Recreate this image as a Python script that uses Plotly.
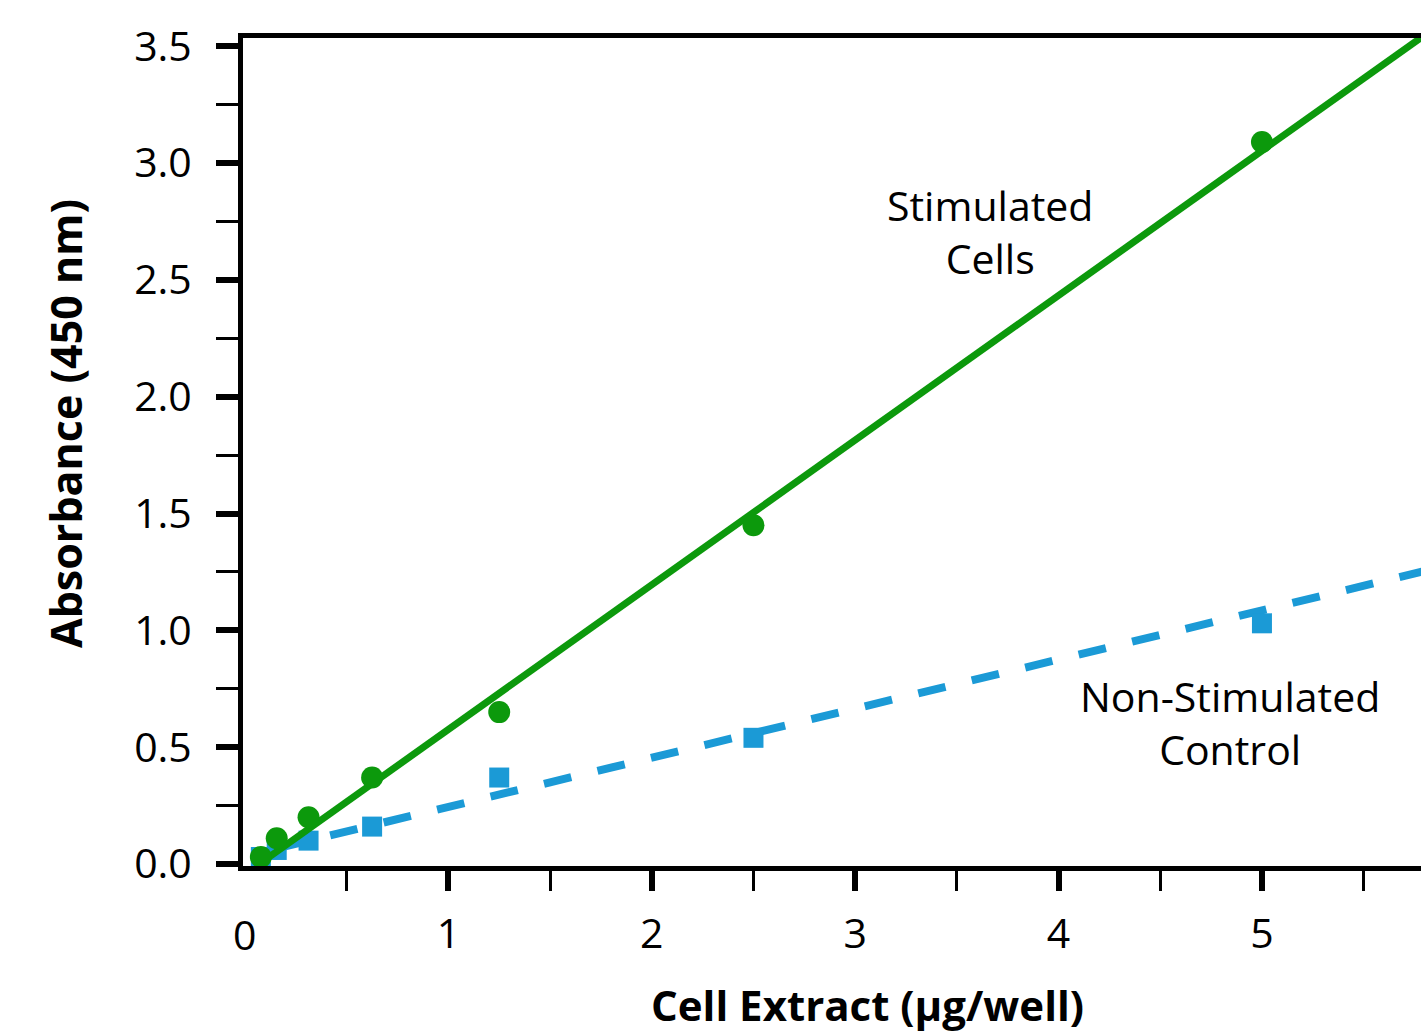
import plotly.graph_objects as go

# Data
conc = [0.078, 0.156, 0.3125, 0.625, 1.25, 2.5, 5.0]
stimulated = [0.03, 0.11, 0.20, 0.37, 0.65, 1.45, 3.09]
non_stimulated = [0.03, 0.06, 0.10, 0.16, 0.37, 0.54, 1.03]

# Fitted trend lines (end points)
stim_fit_x = [0.07, 5.82]
stim_fit_y = [0.0, 3.56]
ctrl_fit_x = [0.156, 5.82]
ctrl_fit_y = [0.067, 1.258]

x_tickvals = [1, 2, 3, 4, 5]
y_tickvals = [0.0, 0.5, 1.0, 1.5, 2.0, 2.5, 3.0, 3.5]
y_ticktext = ["0.0", "0.5", "1.0", "1.5", "2.0", "2.5", "3.0", "3.5"]

GREEN = "#0c990c"
BLUE = "#1b9ad6"
FONT = "Open Sans"

fig = go.Figure()

fig.add_trace(go.Scatter(x=ctrl_fit_x, y=ctrl_fit_y, mode="lines",
                         line=dict(color=BLUE, width=8, dash="28px,27px"),
                         showlegend=False, hoverinfo="skip"))
fig.add_trace(go.Scatter(x=conc, y=non_stimulated, mode="markers",
                         marker=dict(symbol="square", size=20, color=BLUE),
                         name="Non-Stimulated Control", showlegend=False))
fig.add_trace(go.Scatter(x=stim_fit_x, y=stim_fit_y, mode="lines",
                         line=dict(color=GREEN, width=7),
                         showlegend=False, hoverinfo="skip"))
fig.add_trace(go.Scatter(x=conc, y=stimulated, mode="markers",
                         marker=dict(symbol="circle", size=22, color=GREEN),
                         name="Stimulated Cells", showlegend=False))

fig.update_layout(
    width=1421, height=1033,
    margin=dict(l=243, r=0, t=38, b=167),
    paper_bgcolor="white", plot_bgcolor="white",
    font=dict(family=FONT, size=41, color="black"),
    showlegend=False,
    xaxis=dict(
        range=[-0.0098, 5.782],
        showgrid=False, zeroline=False,
        showline=True, linecolor="black", linewidth=5, mirror=True,
        tickmode="array", tickvals=x_tickvals, ticktext=[str(v) for v in x_tickvals],
        ticks="outside", ticklen=20, tickwidth=6, tickcolor="black",
        ticklabelstandoff=8,
        tickfont=dict(family=FONT, size=41),
        minor=dict(tick0=0.5, dtick=1, ticks="outside", ticklen=20, tickwidth=3, tickcolor="black"),
    ),
    yaxis=dict(
        range=[-0.0086, 3.535],
        showgrid=False, zeroline=False,
        showline=True, linecolor="black", linewidth=5,
        tickmode="array", tickvals=y_tickvals, ticktext=y_ticktext,
        ticks="outside", ticklen=22, tickwidth=6, tickcolor="black",
        ticklabelstandoff=16,
        tickfont=dict(family=FONT, size=41),
        minor=dict(tick0=0.25, dtick=0.5, ticks="outside", ticklen=22, tickwidth=3, tickcolor="black"),
    ),
    annotations=[
        # axis titles
        dict(x=0, y=1.883, xref="paper", yref="y", text="<b>Absorbance (450 nm)</b>",
             textangle=-90, showarrow=False, xshift=-178,
             font=dict(family=FONT, size=43, color="black"),
             xanchor="center", yanchor="middle"),
        dict(x=3.063, y=0, xref="x", yref="paper", text="<b>Cell Extract (µg/well)</b>",
             showarrow=False, yshift=-138,
             font=dict(family=FONT, size=42, color="black"),
             xanchor="center", yanchor="middle"),
        # series labels
        dict(x=3.663, y=2.706, xref="x", yref="y", text="Stimulated<br>Cells",
             showarrow=False, font=dict(family=FONT, size=41, color="black"),
             xanchor="center", yanchor="middle", align="center"),
        dict(x=4.843, y=0.605, xref="x", yref="y", text="Non-Stimulated<br>Control",
             showarrow=False, font=dict(family=FONT, size=41, color="black"),
             xanchor="center", yanchor="middle", align="center"),
        # x tick label at the origin (no tick mark drawn there)
        dict(x=0, y=0, xref="x", yref="paper", text="0", showarrow=False,
             font=dict(family=FONT, size=41, color="black"),
             xanchor="center", yanchor="top", yshift=-38),
    ],
)

fig.write_html("out.html", config={"displayModeBar": False},
               post_script="document.body.style.margin='0';")
